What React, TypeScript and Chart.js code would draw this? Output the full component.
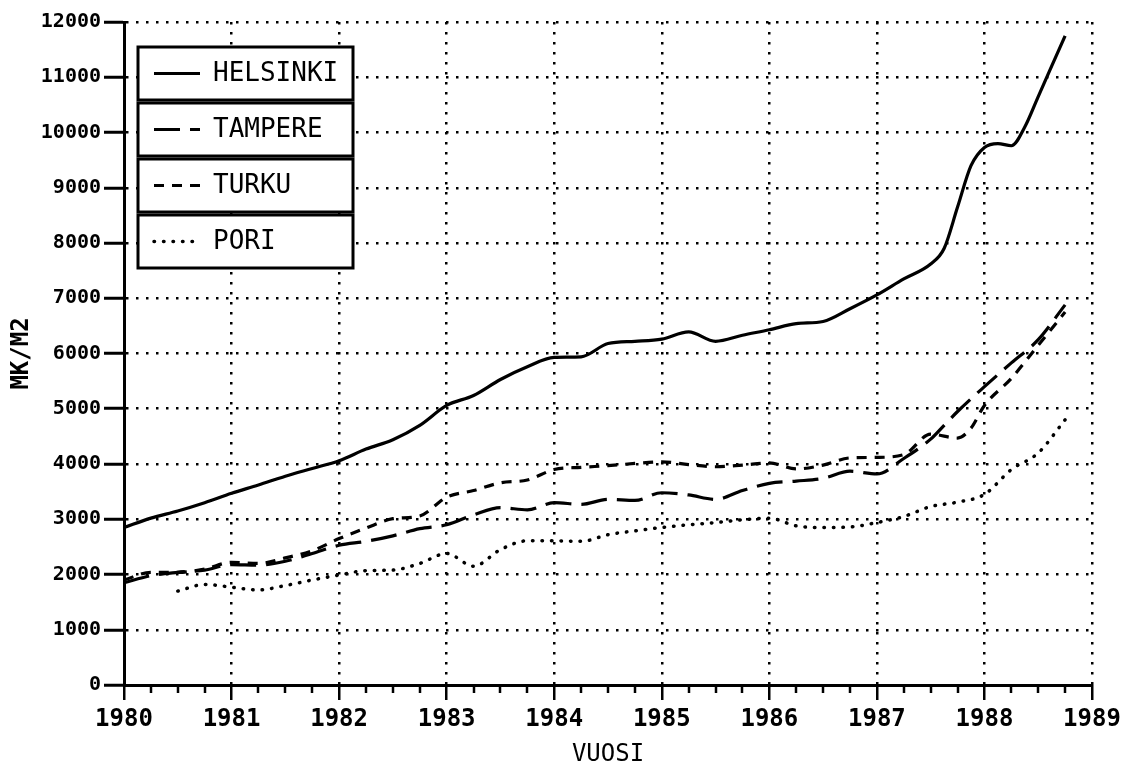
import React, { useEffect, useRef } from "react";
import { Chart, registerables } from "chart.js";

Chart.register(...registerables);

// ---- data ----
const helsinkiYears = [
  1980.0, 1980.25, 1980.5, 1980.75, 1981.0, 1981.25, 1981.5, 1981.75,
  1982.0, 1982.25, 1982.5, 1982.75, 1983.0, 1983.25, 1983.5, 1983.75,
  1984.0, 1984.25, 1984.5, 1984.75, 1985.0, 1985.25, 1985.5, 1985.75,
  1986.0, 1986.25, 1986.5, 1986.75, 1987.0, 1987.25, 1987.5, 1987.625,
  1987.75, 1987.875, 1988.0, 1988.125, 1988.25, 1988.375, 1988.5, 1988.625,
  1988.75,
];
const helsinkiValues = [
  2850, 3020, 3150, 3300, 3470, 3620, 3780, 3920,
  4060, 4270, 4440, 4700, 5060, 5240, 5530, 5760,
  5930, 5940, 6180, 6220, 6260, 6390, 6220, 6330,
  6430, 6540, 6580, 6810, 7060, 7350, 7620, 7900,
  8650, 9400, 9730, 9800, 9760, 10100, 10650, 11200,
  11750,
];

const tampereYears = [
  1980.0, 1980.25, 1980.5, 1980.75, 1981.0, 1981.25, 1981.5, 1981.75,
  1982.0, 1982.25, 1982.5, 1982.75, 1983.0, 1983.25, 1983.5, 1983.75,
  1984.0, 1984.25, 1984.5, 1984.75, 1985.0, 1985.25, 1985.5, 1985.75,
  1986.0, 1986.25, 1986.5, 1986.75, 1987.0, 1987.25, 1987.5, 1987.625,
  1987.75, 1988.0, 1988.25, 1988.5, 1988.75,
];
const tampereValues = [
  1850, 1980, 2040, 2080, 2180, 2170, 2240, 2380,
  2530, 2600, 2700, 2830, 2900, 3080, 3210, 3170,
  3300, 3270, 3360, 3340, 3480, 3440, 3360, 3520,
  3650, 3690, 3740, 3870, 3820, 4100, 4450, 4700,
  4950, 5400, 5830, 6250, 6880,
];

const turkuYears = [
  1980.0, 1980.25, 1980.5, 1980.75, 1981.0, 1981.25, 1981.5, 1981.75,
  1982.0, 1982.25, 1982.5, 1982.75, 1983.0, 1983.25, 1983.5, 1983.75,
  1984.0, 1984.25, 1984.5, 1984.75, 1985.0, 1985.25, 1985.5, 1985.75,
  1986.0, 1986.25, 1986.5, 1986.75, 1987.0, 1987.25, 1987.5, 1987.75,
  1987.875, 1988.0, 1988.25, 1988.5, 1988.75,
];
const turkuValues = [
  1900, 2040, 2040, 2100, 2220, 2200, 2300, 2430,
  2650, 2840, 3010, 3060, 3400, 3520, 3660, 3710,
  3900, 3940, 3970, 4010, 4040, 3990, 3950, 3980,
  4020, 3910, 3980, 4110, 4120, 4170, 4540, 4470,
  4650, 5060, 5550, 6150, 6750,
];

const poriYears = [
  1980.5, 1980.75, 1981.0, 1981.25, 1981.5, 1981.75,
  1982.0, 1982.25, 1982.5, 1982.75, 1983.0, 1983.25, 1983.5, 1983.75,
  1984.0, 1984.25, 1984.5, 1984.75, 1985.0, 1985.25, 1985.5, 1985.75,
  1986.0, 1986.25, 1986.5, 1986.75, 1987.0, 1987.25, 1987.5, 1987.75,
  1988.0, 1988.25, 1988.5, 1988.75,
];
const poriValues = [
  1700, 1820, 1770, 1720, 1800, 1900,
  1990, 2070, 2080, 2200, 2380, 2150, 2450, 2610,
  2610, 2600, 2720, 2790, 2850, 2900, 2940, 2990,
  3020, 2880, 2850, 2860, 2940, 3050, 3230, 3310,
  3450, 3900, 4200, 4800,
];

const seriesNames = ["HELSINKI", "TAMPERE", "TURKU", "PORI"];
const xMin = 1980;
const xMax = 1989;
const yMin = 0;
const yMax = 12000;
const yStep = 1000;
const xTitle = "VUOSI";
const yTitle = "MK/M2";

const toPoints = (xs: number[], ys: number[]) => xs.map((x, i) => ({ x, y: ys[i] }));

const MONO = "'DejaVu Sans Mono', 'Liberation Mono', monospace";

const decorPlugin = {
  id: "decor",
  afterDraw(chart: any) {
    const ctx = chart.ctx as CanvasRenderingContext2D;
    const xs = chart.scales.x;
    const bottom = chart.chartArea.bottom;
    ctx.save();
    // minor (quarter-year) tick marks
    ctx.strokeStyle = "#000";
    ctx.lineWidth = 2.5;
    for (let yr = xMin; yr < xMax; yr++) {
      for (let q = 1; q < 4; q++) {
        const px = Math.round(xs.getPixelForValue(yr + q / 4));
        ctx.beginPath();
        ctx.moveTo(px, bottom);
        ctx.lineTo(px, bottom + 8);
        ctx.stroke();
      }
    }
    // legend: stacked boxed cells
    const left = 138;
    const width = 215;
    const top0 = 47;
    const cellH = 53;
    const step = 56;
    chart.data.datasets.forEach((ds: any, i: number) => {
      const top = top0 + i * step;
      ctx.fillStyle = "#fff";
      ctx.fillRect(left, top, width, cellH);
      ctx.lineWidth = 3;
      ctx.strokeStyle = "#000";
      ctx.setLineDash([]);
      ctx.strokeRect(left, top, width, cellH);
      const cy = top + cellH / 2;
      ctx.beginPath();
      ctx.lineWidth = ds.borderWidth;
      ctx.lineCap = ds.borderCapStyle || "butt";
      ctx.setLineDash(ds.borderDash || []);
      ctx.moveTo(154, cy);
      ctx.lineTo(200, cy);
      ctx.stroke();
      ctx.setLineDash([]);
      ctx.lineCap = "butt";
      ctx.fillStyle = "#000";
      ctx.font = `26px ${MONO}`;
      ctx.textAlign = "left";
      ctx.textBaseline = "middle";
      ctx.fillText(ds.label, 213, cy + 1);
    });
    ctx.restore();
  },
};

export default function App() {
  const ref = useRef<HTMLCanvasElement | null>(null);

  useEffect(() => {
    if (!ref.current) return;
    const common = {
      fill: false,
      pointRadius: 0,
      borderColor: "#000",
      borderWidth: 3.2,
      cubicInterpolationMode: "monotone" as const,
    };
    const chart = new Chart(ref.current, {
      type: "line",
      data: {
        datasets: [
          { ...common, label: seriesNames[0], data: toPoints(helsinkiYears, helsinkiValues), borderDash: [] },
          { ...common, label: seriesNames[1], data: toPoints(tampereYears, tampereValues), borderDash: [26, 10] },
          { ...common, label: seriesNames[2], data: toPoints(turkuYears, turkuValues), borderDash: [10, 8] },
          {
            ...common,
            label: seriesNames[3],
            data: toPoints(poriYears, poriValues),
            borderDash: [0.5, 9],
            borderCapStyle: "round",
            borderWidth: 3.5,
          },
        ],
      },
      options: {
        animation: false,
        responsive: false,
        layout: { padding: { top: 22, right: 40, left: 0, bottom: 0 } },
        plugins: {
          legend: { display: false },
          tooltip: { enabled: false },
        },
        scales: {
          x: {
            type: "linear",
            min: xMin,
            max: xMax,
            afterFit: (s: any) => {
              s.height = 82;
            },
            ticks: {
              stepSize: 1,
              color: "#000",
              padding: 5,
              maxRotation: 0,
              font: { family: MONO, size: 24, weight: "bold" },
              callback: (v: any) => String(v),
            },
            grid: {
              color: "#000",
              lineWidth: 2.5,
              tickLength: 15,
              tickColor: "#000",
              tickWidth: 2.5,
            },
            border: { display: true, color: "#000", width: 3, dash: [2.5, 7.5] },
            title: {
              display: true,
              text: xTitle,
              color: "#000",
              padding: 0,
              font: { family: MONO, size: 24, lineHeight: 1 },
            },
          },
          y: {
            type: "linear",
            min: yMin,
            max: yMax,
            afterFit: (s: any) => {
              s.width = 124;
            },
            ticks: {
              stepSize: yStep,
              color: "#000",
              padding: 3,
              font: { family: MONO, size: 20, weight: "bold" },
              callback: (v: any) => String(v),
            },
            grid: {
              color: "#000",
              lineWidth: 2.5,
              tickLength: 20,
              tickColor: "#000",
              tickWidth: 3,
            },
            border: { display: true, color: "#000", width: 3, dash: [2.5, 7.5] },
            title: {
              display: true,
              text: yTitle,
              color: "#000",
              padding: { top: 10, bottom: 0 },
              font: { family: MONO, size: 24, weight: "bold", lineHeight: 1 },
            },
          },
        },
      },
      plugins: [decorPlugin],
    });
    return () => chart.destroy();
  }, []);

  return (
    <div style={{ position: "absolute", left: 0, top: 0, width: 1132, height: 767, background: "#fff" }}>
      <canvas ref={ref} width={1132} height={767} />
    </div>
  );
}
